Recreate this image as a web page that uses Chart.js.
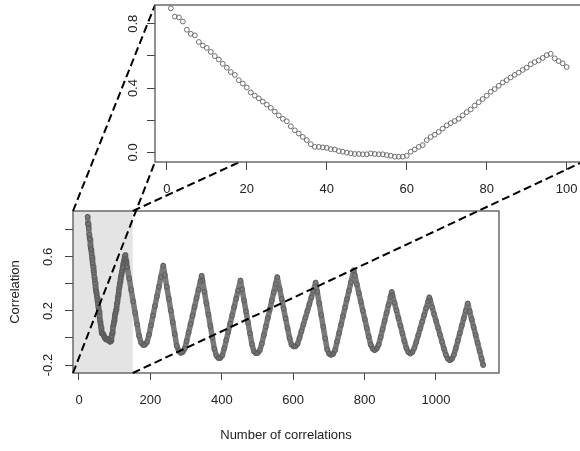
<!DOCTYPE html>
<html>
<head>
<meta charset="utf-8">
<script src="https://cdn.jsdelivr.net/npm/chart.js@4.4.1/dist/chart.umd.min.js"></script>
<style>
  html, body { margin: 0; padding: 0; background: #fff; width: 580px; height: 451px; overflow: hidden; }
  #wrap { position: relative; width: 580px; height: 451px; }
  canvas { position: absolute; left: 0; top: 0; }
</style>
</head>
<body>
<div id="wrap">
  <canvas id="mainChart" width="580" height="451"></canvas>
  <canvas id="zoomChart" width="600" height="200"></canvas>
</div>
<script>
Chart.defaults.font.family = "'Liberation Sans', Arial, sans-serif";
Chart.defaults.font.size = 13;
Chart.defaults.color = '#222';

// first 100 correlations (shown in the zoom panel)
const zoomIndex = Array.from({ length: 100 }, (_, i) => i + 1);
const zoomCorr = [
    0.896, 0.845, 0.84, 0.814, 0.763, 0.738, 0.728, 0.687, 0.665, 0.65,
    0.625, 0.599, 0.578, 0.551, 0.527, 0.50, 0.482, 0.449, 0.428, 0.404,
    0.373, 0.353, 0.336, 0.316, 0.297, 0.277, 0.254, 0.23, 0.209, 0.193,
    0.162, 0.137, 0.117, 0.096, 0.076, 0.051, 0.034, 0.034, 0.031, 0.028,
    0.02, 0.018, 0.008, 0.004, -0.002, -0.006, -0.01, -0.01, -0.012, -0.012,
    -0.006, -0.01, -0.012, -0.012, -0.017, -0.021, -0.027, -0.027, -0.027, -0.021,
    0.004, 0.018, 0.034, 0.045, 0.076, 0.096, 0.11, 0.127, 0.148, 0.168,
    0.182, 0.195, 0.209, 0.23, 0.25, 0.267, 0.291, 0.312, 0.332, 0.353,
    0.377, 0.394, 0.414, 0.435, 0.449, 0.466, 0.482, 0.496, 0.513, 0.527,
    0.548, 0.562, 0.572, 0.588, 0.605, 0.613, 0.585, 0.568, 0.554, 0.531
];

// remaining correlations
const tailIndex = [
    101, 106, 111, 116, 121, 126, 131, 136, 141, 146,
    151, 156, 161, 166, 171, 176, 181, 186, 192, 196,
    201, 206, 211, 216, 221, 226, 231, 236, 241, 246,
    251, 256, 261, 266, 271, 276, 281, 286, 289, 291,
    296, 301, 306, 311, 316, 321, 326, 331, 336, 341,
    346, 351, 356, 361, 366, 371, 376, 381, 387, 391,
    396, 401, 406, 411, 416, 421, 426, 431, 436, 441,
    446, 451, 456, 461, 466, 471, 476, 480, 486, 491,
    496, 501, 506, 511, 516, 521, 526, 531, 536, 541,
    546, 551, 556, 561, 566, 571, 577, 581, 586, 591,
    596, 601, 606, 611, 616, 621, 626, 631, 636, 641,
    646, 651, 656, 661, 666, 673, 676, 681, 686, 691,
    696, 701, 706, 711, 716, 721, 726, 731, 736, 741,
    746, 751, 756, 761, 766, 769, 771, 776, 781, 786,
    791, 796, 801, 806, 811, 816, 821, 826, 831, 836,
    841, 846, 851, 856, 861, 864, 866, 871, 876, 881,
    886, 891, 896, 901, 906, 911, 916, 921, 926, 931,
    936, 941, 946, 951, 956, 961, 966, 971, 976, 981,
    986, 991, 996, 1000
];
const tailCorr = [
    0.52, 0.44, 0.355, 0.27, 0.185, 0.10, 0.015, -0.035, -0.052, -0.05,
    -0.03, 0.023, 0.094, 0.165, 0.236, 0.307, 0.378, 0.45, 0.535, 0.465,
    0.378, 0.29, 0.204, 0.117, 0.03, -0.057, -0.095, -0.11, -0.105, -0.08,
    -0.024, 0.039, 0.103, 0.166, 0.23, 0.294, 0.357, 0.42, 0.46, 0.426,
    0.342, 0.257, 0.173, 0.088, 0.003, -0.08, -0.13, -0.148, -0.148, -0.13,
    -0.078, -0.017, 0.044, 0.106, 0.167, 0.229, 0.29, 0.351, 0.425, 0.36,
    0.278, 0.197, 0.115, 0.034, -0.047, -0.1, -0.113, -0.11, -0.09, -0.042,
    0.021, 0.084, 0.147, 0.21, 0.274, 0.337, 0.40, 0.45, 0.362, 0.29,
    0.217, 0.144, 0.072, -0.001, -0.05, -0.063, -0.062, -0.045, 0.0, 0.05,
    0.10, 0.15, 0.20, 0.25, 0.30, 0.35, 0.41, 0.341, 0.255, 0.169,
    0.083, -0.004, -0.085, -0.118, -0.125, -0.118, -0.09, -0.027, 0.035, 0.098,
    0.161, 0.224, 0.287, 0.349, 0.412, 0.50, 0.461, 0.397, 0.332, 0.268,
    0.203, 0.139, 0.074, 0.01, -0.05, -0.08, -0.09, -0.08, -0.05, 0.005,
    0.065, 0.125, 0.185, 0.245, 0.305, 0.34, 0.317, 0.26, 0.204, 0.147,
    0.09, 0.034, -0.023, -0.075, -0.105, -0.115, -0.105, -0.075, -0.03, 0.02,
    0.07, 0.12, 0.17, 0.22, 0.27, 0.30, 0.28, 0.228, 0.177, 0.126,
    0.075, 0.024, -0.028, -0.079, -0.125, -0.155, -0.165, -0.155, -0.125, -0.075,
    -0.02, 0.035, 0.09, 0.145, 0.2, 0.255, 0.197, 0.138, 0.08, 0.022,
    -0.037, -0.095, -0.153, -0.2
];

// axis ticks
const mainXTicks = [0, 200, 400, 600, 800, 1000];
const mainYTicks = [-0.2, 0.0, 0.2, 0.4, 0.6, 0.8];
const zoomXTicks = [0, 20, 40, 60, 80, 100];
const zoomYTicks = [0.0, 0.2, 0.4, 0.6, 0.8];
// tick labels that R kept on the rotated y axes
const mainYLabels = [-0.2, 0.2, 0.6];
const zoomYLabels = [0.0, 0.4, 0.8];

// grey band in the big panel marking the zoomed part (data units of the big panel)
const shadeRange = [-36, 115];

const boxColor = '#555';
const tickColor = '#444';

const fixedTicks = list => scale => { scale.ticks = list.map(v => ({ value: v })); };

function drawRotatedLabels(chart, values, xc) {
    const ctx = chart.ctx;
    const yScale = chart.scales.y;
    ctx.save();
    ctx.fillStyle = '#222';
    ctx.font = "13px 'Liberation Sans', Arial, sans-serif";
    ctx.textAlign = 'center';
    ctx.textBaseline = 'middle';
    values.forEach(v => {
        ctx.save();
        ctx.translate(xc, yScale.getPixelForValue(v));
        ctx.rotate(-Math.PI / 2);
        ctx.fillText(v.toFixed(1), 0, 0);
        ctx.restore();
    });
    ctx.restore();
}

function drawBox(chart) {
    const { ctx, chartArea: a } = chart;
    ctx.save();
    ctx.strokeStyle = boxColor;
    ctx.lineWidth = 1.3;
    ctx.strokeRect(a.left, a.top, a.right - a.left, a.bottom - a.top);
    ctx.restore();
}

// ---- zoom panel (top) ----
const zoomPanel = {
    id: 'zoomPanel',
    beforeDraw(chart) {
        const { ctx, chartArea: a } = chart;
        ctx.save();
        ctx.fillStyle = '#fff';
        ctx.fillRect(a.left, a.top, a.right - a.left, a.bottom - a.top);
        ctx.restore();
    },
    afterDraw(chart) {
        drawBox(chart);
        drawRotatedLabels(chart, zoomYLabels, chart.chartArea.left - 22);
    }
};

const zoomChart = new Chart(document.getElementById('zoomChart'), {
    type: 'scatter',
    data: {
        datasets: [{
            data: zoomIndex.map((x, i) => ({ x: x, y: zoomCorr[i] })),
            pointRadius: 2.4,
            pointBorderWidth: 1,
            pointBorderColor: '#6e6e6e',
            pointBackgroundColor: 'rgba(0,0,0,0)',
            showLine: false
        }]
    },
    options: {
        responsive: false,
        animation: false,
        layout: { padding: { left: 125, top: 3, right: 17.5, bottom: 0 } },
        plugins: { legend: { display: false }, tooltip: { enabled: false } },
        scales: {
            x: {
                min: -2.96, max: 103.96,
                afterFit: s => { s.height = 38; },
                afterBuildTicks: fixedTicks(zoomXTicks),
                ticks: { padding: 12, maxRotation: 0, autoSkip: false, callback: v => String(v) },
                grid: { drawOnChartArea: false, tickLength: 8, tickColor: tickColor },
                border: { display: false }
            },
            y: {
                min: -0.06, max: 0.917,
                afterFit: s => { s.width = 30; },
                afterBuildTicks: fixedTicks(zoomYTicks),
                ticks: { display: false },
                grid: { drawOnChartArea: false, tickLength: 8, tickColor: tickColor },
                border: { display: false }
            }
        }
    },
    plugins: [zoomPanel]
});

// ---- big panel (bottom) ----
const mainPanel = {
    id: 'mainPanel',
    beforeDatasetsDraw(chart) {
        const { ctx, chartArea: a } = chart;
        const xd = chart.scales.xd;
        const x0 = xd.getPixelForValue(shadeRange[0]);
        const x1 = xd.getPixelForValue(shadeRange[1]);
        ctx.save();
        ctx.fillStyle = '#e4e4e4';
        ctx.fillRect(x0, a.top, x1 - x0, a.bottom - a.top);
        ctx.restore();
    },
    afterDatasetsDraw(chart) {
        const { ctx, chartArea: a } = chart;
        const xd = chart.scales.xd;
        const x0 = xd.getPixelForValue(shadeRange[0]);
        const x1 = xd.getPixelForValue(shadeRange[1]);
        const z = zoomChart.chartArea;
        drawBox(chart);
        ctx.save();
        ctx.strokeStyle = '#000';
        ctx.lineWidth = 2;
        ctx.setLineDash([8, 4]);
        [[x0, a.bottom, z.left, z.bottom],
         [x0, a.top, z.left, z.top],
         [x1, a.bottom, z.right, z.bottom],
         [x1, a.top, z.right, z.top]].forEach(([ax, ay, bx, by]) => {
            ctx.beginPath();
            ctx.moveTo(ax, ay);
            ctx.lineTo(bx, by);
            ctx.stroke();
        });
        ctx.restore();
    },
    afterDraw(chart) {
        const a = chart.chartArea;
        drawRotatedLabels(chart, mainYLabels, a.left - 25);
        const ctx = chart.ctx;
        ctx.save();
        ctx.fillStyle = '#222';
        ctx.font = "13px 'Liberation Sans', Arial, sans-serif";
        ctx.textAlign = 'center';
        ctx.textBaseline = 'middle';
        ctx.translate(15, (a.top + a.bottom) / 2);
        ctx.rotate(-Math.PI / 2);
        ctx.fillText('Correlation', 0, 0);
        ctx.restore();
    }
};

const mainIndex = zoomIndex.concat(tailIndex);
const mainCorr = zoomCorr.concat(tailCorr);

new Chart(document.getElementById('mainChart'), {
    type: 'scatter',
    data: {
        datasets: [{
            data: mainIndex.map((x, i) => ({ x: x, y: mainCorr[i] })),
            xAxisID: 'xd',
            yAxisID: 'y',
            showLine: true,
            borderColor: '#7a7a7a',
            borderWidth: 5.5,
            borderJoinStyle: 'round',
            borderCapStyle: 'round',
            pointRadius: 2.4,
            pointBorderWidth: 1,
            pointBorderColor: '#5c5c5c',
            pointBackgroundColor: 'rgba(0,0,0,0)'
        }]
    },
    options: {
        responsive: false,
        animation: false,
        layout: { padding: { left: 0, top: 211, right: 81, bottom: 0 } },
        plugins: { legend: { display: false }, tooltip: { enabled: false } },
        scales: {
            xd: {
                type: 'linear', position: 'bottom', display: false,
                min: -36, max: 1040
            },
            x: {
                type: 'linear', position: 'bottom',
                min: -16.8, max: 1176.5,
                afterFit: s => { s.height = 78; },
                afterBuildTicks: fixedTicks(mainXTicks),
                ticks: { padding: 13, maxRotation: 0, autoSkip: false, callback: v => String(v) },
                grid: { drawOnChartArea: false, tickLength: 7, tickColor: tickColor },
                border: { display: false },
                title: { display: true, text: 'Number of correlations', color: '#222',
                         font: { size: 13 }, padding: { top: 0, bottom: 8 } }
            },
            y: {
                min: -0.259, max: 0.939,
                afterFit: s => { s.width = 73; },
                afterBuildTicks: fixedTicks(mainYTicks),
                ticks: { display: false },
                grid: { drawOnChartArea: false, tickLength: 8, tickColor: tickColor },
                border: { display: false }
            }
        }
    },
    plugins: [mainPanel]
});
</script>
</body>
</html>
